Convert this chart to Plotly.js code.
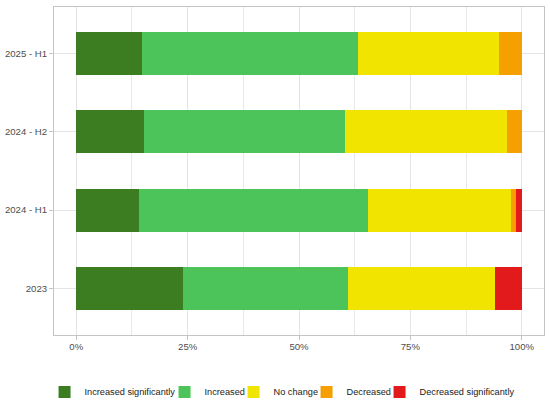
<!DOCTYPE html>
<html>
<head>
<meta charset="utf-8">
<script src="https://cdn.plot.ly/plotly-3.0.1.min.js"></script>
<style>html,body{margin:0;padding:0;background:#fff;}#chart{width:550px;height:404px;}</style>
</head>
<body>
<div id="chart"></div>
<script>
const categories = ['2023', '2024 - H1', '2024 - H2', '2025 - H1'];
const seriesNames = ['Increased significantly', 'Increased', 'No change', 'Decreased', 'Decreased significantly'];
const increasedSignificantly = [24.0, 14.0, 15.1, 14.8];
const increased = [36.9, 51.5, 45.3, 48.4];
const noChange = [33.0, 32.2, 36.2, 31.8];
const decreased = [0, 1.1, 3.4, 5.0];
const decreasedSignificantly = [6.1, 1.2, 0, 0];
const xTickVals = [0, 25, 50, 75, 100];
const xTickText = ['0%', '25%', '50%', '75%', '100%'];

const colors = ['#3C7D22', '#4CC45A', '#F0E400', '#F5A000', '#E31A1C'];
const legendWidths = [75, 24, 28, 28, 95];
const values = [increasedSignificantly, increased, noChange, decreased, decreasedSignificantly];

const traces = values.map((v, i) => ({
  type: 'bar',
  orientation: 'h',
  name: seriesNames[i],
  x: v,
  y: categories,
  marker: {color: colors[i], line: {width: 0}},
  legendwidth: legendWidths[i],
  hoverinfo: 'skip'
}));

const layout = {
  width: 550,
  height: 404,
  margin: {l: 54, r: 6, t: 7, b: 69},
  paper_bgcolor: '#ffffff',
  plot_bgcolor: '#ffffff',
  barmode: 'stack',
  bargap: 0.45,
  font: {family: 'Liberation Sans, Arial, sans-serif', size: 9.6, color: '#4D4D4D'},
  xaxis: {
    range: [-5, 105],
    tickvals: xTickVals,
    ticktext: xTickText,
    showgrid: true,
    gridcolor: '#E4E4E4',
    gridwidth: 1,
    minor: {dtick: 12.5, tick0: 0, showgrid: true, gridcolor: '#E8E8E8', gridwidth: 1, ticks: ''},
    zeroline: false,
    showline: true,
    linecolor: '#C4C4C4',
    linewidth: 1,
    mirror: true,
    ticks: 'outside',
    ticklen: 4,
    tickcolor: '#C4C4C4',
    ticklabelstandoff: -2,
    tickfont: {size: 9.6, color: '#4D4D4D'},
    fixedrange: true
  },
  yaxis: {
    type: 'category',
    categoryorder: 'array',
    categoryarray: categories,
    range: [-0.6, 3.6],
    showgrid: true,
    gridcolor: '#E4E4E4',
    gridwidth: 1,
    zeroline: false,
    showline: true,
    linecolor: '#C4C4C4',
    linewidth: 1,
    mirror: true,
    ticks: 'outside',
    ticklen: 4,
    tickcolor: '#C4C4C4',
    tickfont: {size: 9.6, color: '#4D4D4D'},
    fixedrange: true
  },
  showlegend: true,
  legend: {
    orientation: 'h',
    xref: 'container',
    yref: 'container',
    x: 0.081,
    xanchor: 'left',
    y: 0.03,
    yanchor: 'middle',
    font: {size: 9.2, color: '#1A1A1A'},
    traceorder: 'normal',
    bgcolor: 'rgba(0,0,0,0)'
  },
  hovermode: false
};

Plotly.newPlot('chart', traces, layout, {displayModeBar: false, staticPlot: true});
</script>
</body>
</html>
